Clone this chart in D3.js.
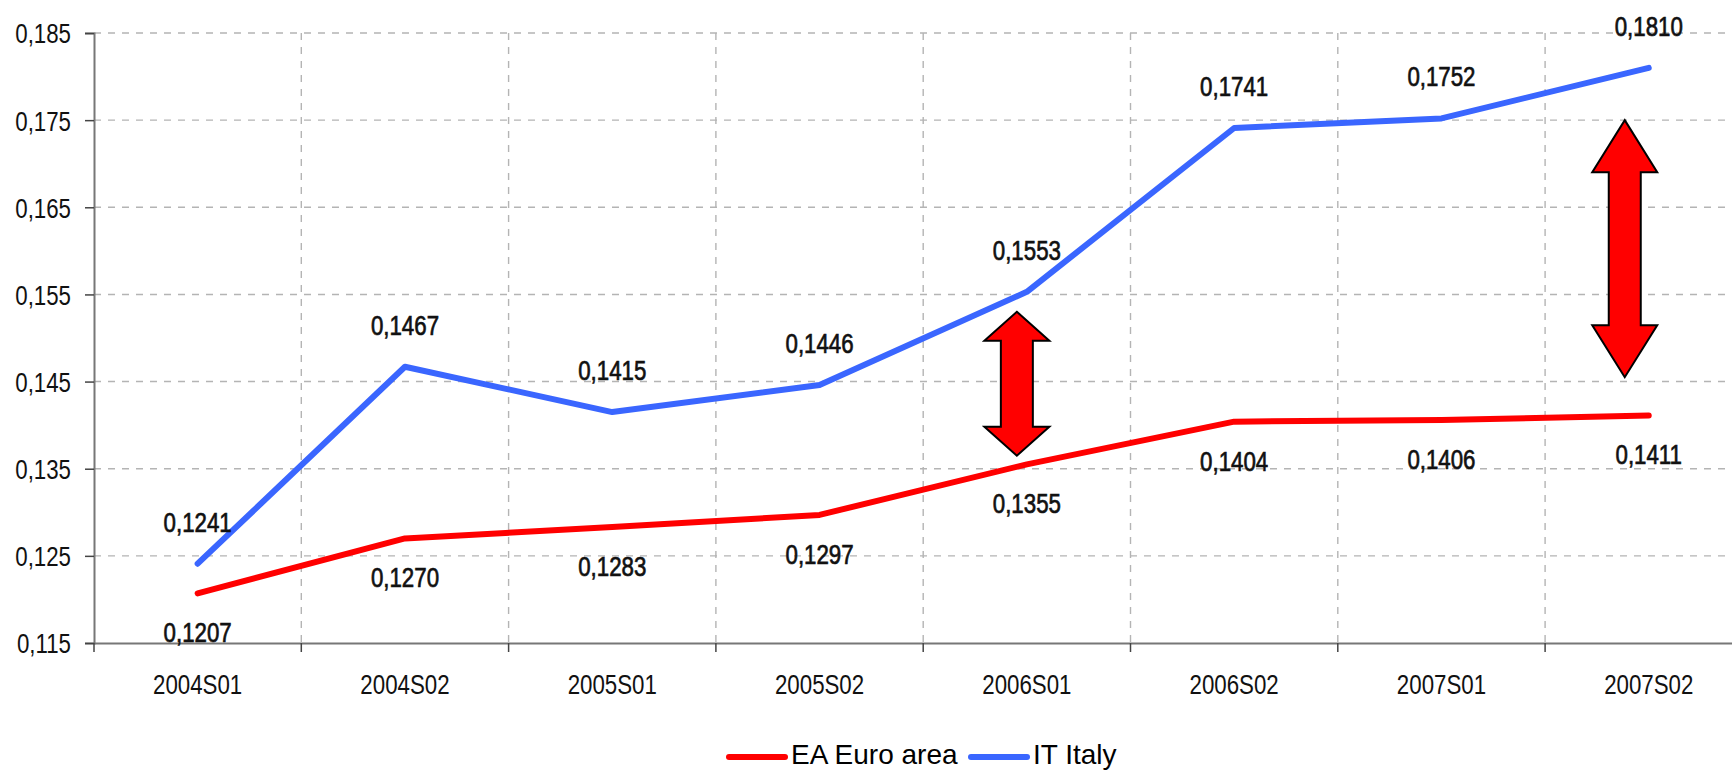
<!DOCTYPE html>
<html>
<head>
<meta charset="utf-8">
<script src="https://cdn.jsdelivr.net/npm/d3@7/dist/d3.min.js"></script>
<style>
  html, body { margin: 0; padding: 0; background: #fff; overflow: hidden; }
  text { font-family: "Liberation Sans", Arial, sans-serif; }
</style>
</head>
<body>
<div id="chart"></div>
<script>
const categories = ["2004S01", "2004S02", "2005S01", "2005S02", "2006S01", "2006S02", "2007S01", "2007S02"];
const euroArea = [0.1207, 0.1270, 0.1283, 0.1297, 0.1355, 0.1404, 0.1406, 0.1411];
const italy = [0.1241, 0.1467, 0.1415, 0.1446, 0.1553, 0.1741, 0.1752, 0.1810];
const yTicks = [0.115, 0.125, 0.135, 0.145, 0.155, 0.165, 0.175, 0.185];
const seriesNames = ["EA Euro area", "IT Italy"];
// gap annotations: category, value range covered by the arrow
const arrows = [
  { cat: "2006S01", from: 0.1365, to: 0.1530 },
  { cat: "2007S02", from: 0.1455, to: 0.1750 }
];

const width = 1732;
const height = 771;
const left = 94;
const bandW = 207.3;
const squeeze = 0.81;
const fontSize = 27.5;

const svg = d3.select("#chart").append("svg")
  .attr("width", width)
  .attr("height", height);

const x = d3.scaleBand()
  .domain(categories)
  .range([left, left + bandW * categories.length])
  .padding(0);

const y = d3.scaleLinear()
  .domain([0.115, 0.185])
  .range([643, 33]);

const fmt = function (v, digits) {
  return v.toFixed(digits).replace(".", ",");
};

// grid
const grid = svg.append("g");
grid.selectAll("line.h")
  .data(yTicks.slice(1))
  .enter().append("line")
  .attr("x1", left).attr("x2", width)
  .attr("y1", d => y(d)).attr("y2", d => y(d))
  .attr("stroke", "#b4b4b4").attr("stroke-width", 1.4)
  .attr("stroke-dasharray", "7,7");

grid.selectAll("line.v")
  .data(categories.slice(1))
  .enter().append("line")
  .attr("x1", d => x(d)).attr("x2", d => x(d))
  .attr("y1", y(0.185)).attr("y2", y(0.115))
  .attr("stroke", "#b4b4b4").attr("stroke-width", 1.4)
  .attr("stroke-dasharray", "7,7");

// y axis
const yAxis = svg.append("g")
  .attr("transform", "translate(" + left + ",0)")
  .call(d3.axisLeft(y).tickValues(yTicks).tickSize(9).tickFormat(d => fmt(d, 3)));
yAxis.select(".domain").attr("stroke", "#777").attr("stroke-width", 2);
yAxis.selectAll(".tick line").attr("stroke", "#444").attr("stroke-width", 1.5);
yAxis.selectAll("text")
  .attr("x", 0)
  .attr("dy", "0.36em")
  .attr("transform", "translate(-23,0) scale(" + squeeze + ",1)")
  .attr("font-size", fontSize)
  .attr("fill", "#111");

// x axis
const xAxis = svg.append("g")
  .attr("transform", "translate(0," + y(0.115) + ")")
  .call(d3.axisBottom(x).tickSize(0));
xAxis.select(".domain").attr("stroke", "#777").attr("stroke-width", 2);
xAxis.selectAll("text")
  .attr("y", 0)
  .attr("dy", "0.36em")
  .attr("transform", "translate(0,41.5) scale(" + squeeze + ",1)")
  .attr("font-size", fontSize)
  .attr("fill", "#111");
svg.append("g").selectAll("line")
  .data(categories)
  .enter().append("line")
  .attr("x1", d => x(d)).attr("x2", d => x(d))
  .attr("y1", y(0.115)).attr("y2", y(0.115) + 9)
  .attr("stroke", "#444").attr("stroke-width", 1.5);

// lines
const cx = d => x(d) + x.bandwidth() / 2;
const line = d3.line()
  .x((d, i) => cx(categories[i]))
  .y(d => y(d));

const series = [
  { name: seriesNames[0], values: euroArea, color: "#ff0000", dy: 39 },
  { name: seriesNames[1], values: italy, color: "#3a66ff", dy: -42 }
];

svg.append("g").selectAll("path")
  .data(series)
  .enter().append("path")
  .attr("d", d => line(d.values))
  .attr("fill", "none")
  .attr("stroke", d => d.color)
  .attr("stroke-width", 6)
  .attr("stroke-linecap", "round")
  .attr("stroke-linejoin", "round");

// arrows
const arrowPath = function (a) {
  const xc = cx(a.cat) - (a.cat === "2007S02" ? 24 : 10);
  const top = y(a.to), bot = y(a.from);
  const hh = a.cat === "2007S02" ? 52 : 29;
  const hw = 32.5, sw = 16;
  return "M" + xc + "," + top +
    "L" + (xc + hw) + "," + (top + hh) +
    "L" + (xc + sw) + "," + (top + hh) +
    "L" + (xc + sw) + "," + (bot - hh) +
    "L" + (xc + hw) + "," + (bot - hh) +
    "L" + xc + "," + bot +
    "L" + (xc - hw) + "," + (bot - hh) +
    "L" + (xc - sw) + "," + (bot - hh) +
    "L" + (xc - sw) + "," + (top + hh) +
    "L" + (xc - hw) + "," + (top + hh) + "Z";
};
svg.append("g").selectAll("path")
  .data(arrows)
  .enter().append("path")
  .attr("d", arrowPath)
  .attr("fill", "#ff0000")
  .attr("stroke", "#000")
  .attr("stroke-width", 2)
  .attr("stroke-linejoin", "miter");

// data labels
series.forEach(function (s) {
  svg.append("g").selectAll("text")
    .data(s.values)
    .enter().append("text")
    .attr("transform", (d, i) => "translate(" + cx(categories[i]) + "," + (y(d) + s.dy) + ") scale(" + squeeze + ",1)")
    .attr("dy", "0.36em")
    .attr("text-anchor", "middle")
    .attr("font-size", fontSize)
    .attr("fill", "#111")
    .attr("stroke", "#111")
    .attr("stroke-width", 0.7)
    .text(d => fmt(d, 4));
});

// legend
const legend = svg.append("g").attr("transform", "translate(729,757)");
const legendItems = [
  { name: seriesNames[0], color: "#ff0000", x: 0 },
  { name: seriesNames[1], color: "#3a66ff", x: 242 }
];
legend.selectAll("line")
  .data(legendItems)
  .enter().append("line")
  .attr("x1", d => d.x).attr("x2", d => d.x + 56)
  .attr("y1", 0).attr("y2", 0)
  .attr("stroke", d => d.color)
  .attr("stroke-width", 6)
  .attr("stroke-linecap", "round");
legend.selectAll("text")
  .data(legendItems)
  .enter().append("text")
  .attr("x", d => d.x + 62)
  .attr("y", 7)
  .attr("font-size", 28)
  .attr("fill", "#000")
  .text(d => d.name);
</script>
</body>
</html>
